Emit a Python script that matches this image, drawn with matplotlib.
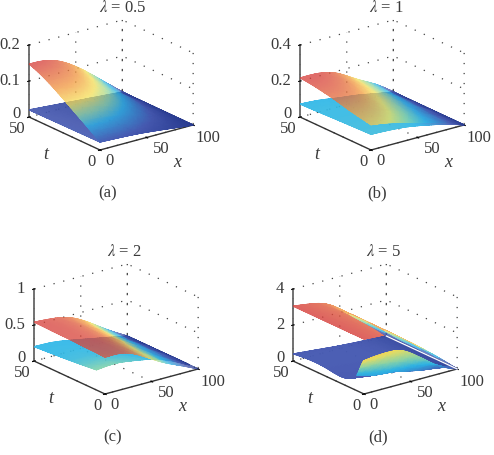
import matplotlib
matplotlib.use('Agg')
import matplotlib.pyplot as plt
import matplotlib.tri as mtri
from matplotlib.colors import LinearSegmentedColormap
import numpy as np
from mpl_toolkits.mplot3d import proj3d

plt.rcParams['font.family'] = ['Liberation Serif', 'DejaVu Serif']
plt.rcParams['mathtext.fontset'] = 'stix'
plt.rcParams['text.color'] = '#3a3a3a'
plt.rcParams['grid.color'] = '#444444'
plt.rcParams['grid.linewidth'] = 0.9
plt.rcParams['grid.linestyle'] = (0, (1, 7))

x_vals = [0, 20, 40, 60, 80, 100]
t_upper = [0, 12.5, 25, 37.5, 50]
t_lower = [0, 25, 50]
t_lower_c = [6, 25, 50]
t_lower_d = [5, 10, 25, 50]
t_sheet_d = [5, 0]

upper_a = [[.022, .020, .017, .012, .006, 0],
           [.058, .055, .046, .032, .016, 0],
           [.092, .088, .074, .052, .026, 0],
           [.124, .119, .100, .070, .035, 0],
           [.147, .143, .122, .086, .043, 0]]
lower_a = [[.022, .020, .017, .012, .006, 0],
           [.021, .018, .014, .010, .005, 0],
           [.020, .016, .012, .008, .004, 0]]

upper_b = [[.140, .124, .097, .070, .042, 0],
           [.160, .150, .120, .085, .048, 0],
           [.185, .175, .140, .100, .056, 0],
           [.205, .198, .165, .115, .064, 0],
           [.217, .215, .187, .128, .072, 0]]
lower_b = [[.087, .083, .074, .055, .032, 0],
           [.080, .074, .062, .046, .025, 0],
           [.072, .065, .050, .037, .018, 0]]
lower_shade_b = [[.35, .35, .34, .30, .18, .05],
                 [.34, .34, .33, .28, .16, .05],
                 [.33, .33, .32, .26, .14, .05]]

upper_c = [[.51, .50, .39, .24, .12, 0],
           [.52, .51, .41, .26, .13, 0],
           [.53, .515, .43, .28, .14, 0],
           [.535, .52, .445, .30, .145, 0],
           [.54, .52, .46, .32, .15, 0]]
lower_c = [[.28, .30, .27, .22, .13, 0],
           [.24, .24, .21, .16, .09, 0],
           [.20, .19, .15, .10, .05, 0]]
lower_shade_c = [[.44, .42, .38, .33, .22, .05],
                 [.35, .35, .34, .30, .18, .05],
                 [.33, .33, .32, .26, .14, .05]]

upper_d = [[3.05, 2.9, 2.50, 1.75, .90, 0],
           [3.05, 2.9, 2.52, 1.76, .91, 0],
           [3.05, 2.9, 2.53, 1.76, .92, 0],
           [3.05, 2.9, 2.54, 1.77, .92, 0],
           [3.05, 2.9, 2.55, 1.77, .93, 0]]
lower_d = [[.85, .60, .50, .28, .11, 0],
           [.50, .42, .34, .20, .10, 0],
           [.45, .36, .27, .17, .08, 0],
           [.40, .30, .20, .12, .06, 0]]
lower_shade_d = [[.15, .15, .15, .14, .10, .04],
                 [.14, .14, .14, .14, .11, .05],
                 [.14, .14, .14, .14, .12, .06],
                 [.14, .14, .14, .14, .12, .07]]
sheet_d = [[.85, .60, .50, .28, .11, 0],
           [1.85, 1.95, 1.85, 1.2, .45, 0]]
sheet_shade_d = [[.30, .30, .30, .25, .20, .10],
                 [.60, .60, .56, .45, .30, .10]]

z_tops = [.2, .4, 1, 4]
z_ticks = [[0, .1, .2], [0, .2, .4], [0, .5, 1], [0, 2, 4]]
z_labels = [['0', '0.1', '0.2'], ['0', '0.2', '0.4'], ['0', '0.5', '1'], ['0', '2', '4']]
x_ticks = [0, 50, 100]
t_ticks = [0, 50]
titles = ['0.5', '1', '2', '5']
captions = ['(a)', '(b)', '(c)', '(d)']

# pixel anchors of each panel, y counted from the top of the figure
front_px = [(100, 151), (371, 151), (105, 395), (364, 395)]
title_px = [(123, 8), (386, 8), (124, 252), (384, 252)]
caption_px = [(108, 193), (377, 193), (113, 437), (378, 437)]

W, H = 494, 456
SPAN = 164.0
FS = 12

# washed out jet, as the print colours come out
soft_jet = LinearSegmentedColormap.from_list('soft_jet', [
    (0.0, '#26398f'), (0.14, '#4659b2'), (0.33, '#2cb6e8'), (0.45, '#8fd8a6'),
    (0.58, '#f6e25a'), (0.75, '#f2983f'), (1.0, '#d63e3a')])

fig = plt.figure(figsize=(W / 100, H / 100), dpi=100)
over = fig.add_axes([0, 0, 1, 1], zorder=10)
over.set_xlim(0, W)
over.set_ylim(H, 0)
over.axis('off')
over.set_autoscale_on(False)


def to_px(ax, x, t, z):
    px, py, _ = proj3d.proj_transform(x, t, z, ax.get_proj())
    dx, dy = ax.transData.transform((px, py))
    return dx, H - dy


def place(ax, front, size):
    # resize and shift the square 3D axes until the floor sits on its anchor
    for _ in range(3):
        l, b = 50.0, 50.0
        ax.set_position([l / W, b / H, size / W, size / H])
        fig.canvas.draw()
        x0 = to_px(ax, 0, 50, 0)[0]
        x1 = to_px(ax, 100, 0, 0)[0]
        size = size * SPAN / (x1 - x0)
    ax.set_position([l / W, b / H, size / W, size / H])
    fig.canvas.draw()
    fx, fy = to_px(ax, 0, 0, 0)
    l += front[0] - fx
    b -= front[1] - fy
    ax.set_position([l / W, b / H, size / W, size / H])
    fig.canvas.draw()


def flat_alpha(alpha):
    # one transparency for the whole sheet, otherwise triangle seams show
    def apply(img, dpi):
        out = img.copy()
        out[..., 3] = np.clip(out[..., 3] * 2, 0, 1) * alpha
        return out, 0, 0
    return apply


def surface(ax, ts, zs, vmax, alpha, shade=None):
    X, T = np.meshgrid(x_vals, ts)
    Z = np.array(zs, dtype=float).ravel()
    grid = mtri.Triangulation(X.ravel(), T.ravel() * 2.0)
    refiner = mtri.UniformTriRefiner(grid)
    fine, fine_z = refiner.refine_field(Z, subdiv=3)
    fine_z = np.clip(fine_z, 0, None)
    if shade is None:
        colour, top = fine_z, vmax
    else:
        _, colour = refiner.refine_field(np.array(shade, dtype=float).ravel(), subdiv=3)
        top = 1
    px, py, _ = proj3d.proj_transform(fine.x, fine.y / 2.0, fine_z, ax.get_proj())
    tri = mtri.Triangulation(px, py, fine.triangles)
    mesh = over.tripcolor(tri, colour, shading='gouraud', cmap=soft_jet, vmin=0, vmax=top,
                          transform=ax.transData)
    mesh.set_agg_filter(flat_alpha(alpha))


uppers = [upper_a, upper_b, upper_c, upper_d]
lowers = [lower_a, lower_b, lower_c, lower_d]
lower_times = [t_lower, t_lower, t_lower_c, t_lower_d]
lower_shades = [None, lower_shade_b, lower_shade_c, lower_shade_d]

for i in range(4):
    ax = fig.add_subplot(projection='3d', proj_type='ortho')
    ax.patch.set_visible(False)
    ax.view_init(elev=20.7, azim=-127.25)
    ax.set_box_aspect((117, 117, 77))
    ax.set_xlim(0, 100)
    ax.set_ylim(0, 50)
    ax.set_zlim(0, z_tops[i])
    ax.set_xticks(x_ticks)
    ax.set_yticks(t_ticks)
    ax.set_zticks(z_ticks[i])
    ax.set_xticklabels([])
    ax.set_yticklabels([])
    ax.set_zticklabels([])
    for axis in (ax.xaxis, ax.yaxis, ax.zaxis):
        axis.pane.set_visible(False)
        axis.line.set_color('#333333')
        axis.line.set_linewidth(1.0)
    ax.zaxis.line.set_color('#666666')
    ax.zaxis.line.set_linewidth(1.3)
    place(ax, front_px[i], 260.0)

    # colours run with height
    vmax = max(max(r) for r in uppers[i])
    if i == 3:
        surface(ax, t_upper, upper_d, vmax, 0.8)
        surface(ax, lower_times[i], lower_d, vmax, 0.97, shade=lower_shade_d)
        surface(ax, t_sheet_d, sheet_d, vmax, 0.97, shade=sheet_shade_d)
        a = to_px(ax, 100, 50, 0)
        c = to_px(ax, 100, 0, 0)
        over.plot([a[0], c[0]], [a[1], c[1]], color='white', lw=0.9)
    else:
        surface(ax, lower_times[i], lowers[i], vmax, 0.92, shade=lower_shades[i])
        surface(ax, t_upper, uppers[i], vmax, 0.76)

    for v, lab, off in zip(x_ticks, ['0', '50', '100'], [(9, 10), (15, 11), (15, 12)]):
        px, py = to_px(ax, v, 0, 0)
        over.text(px + off[0], py + off[1], lab, fontsize=FS, ha='center', va='center')
    for v, lab, off in zip(t_ticks, ['0', '50'], [(-8, 11), (-12, 11)]):
        px, py = to_px(ax, 0, v, 0)
        over.text(px + off[0], py + off[1], lab, fontsize=FS, ha='center', va='center')
    for v, lab in zip(z_ticks[i], z_labels[i]):
        px, py = to_px(ax, 0, 50, v)
        dy = -4.5 if v == 0 else -1
        over.text(px - 9, py + dy, lab, fontsize=FS, ha='right', va='center')

    fx, fy = front_px[i]
    over.text(fx + 77, fy + 12, 'x', fontsize=FS + 1, style='italic', ha='center', va='center')
    over.text(fx - 54, fy + 4, 't', fontsize=FS + 1, style='italic', ha='center', va='center')
    over.text(title_px[i][0], title_px[i][1], r'$\lambda$ = ' + titles[i], fontsize=FS,
              ha='center', va='center')
    over.text(caption_px[i][0], caption_px[i][1], captions[i], fontsize=FS,
              ha='center', va='center')

fig.savefig('out.png', dpi=100)
